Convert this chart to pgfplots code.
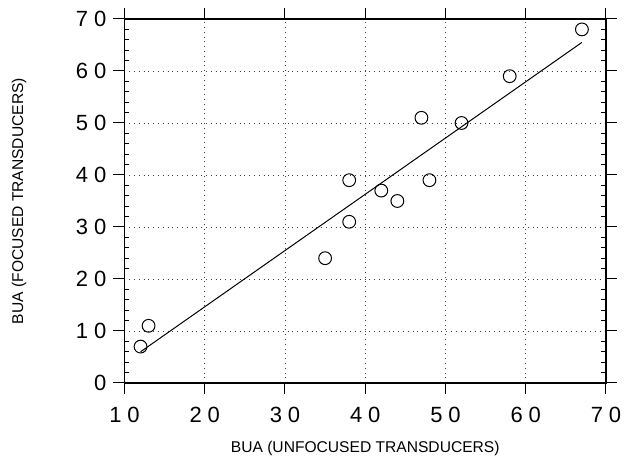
\documentclass[border=0pt]{standalone}
\usepackage{pgfplots}
\pgfplotsset{compat=1.18}
\usepackage{fontspec}
\setmainfont{Liberation Sans}

\newcommand{\tl}[2]{#1\kern3pt#2}

\begin{document}
\begin{tikzpicture}
\begin{axis}[
    name=ax,
    scale only axis,
    width=240.75pt, height=182pt,
    xmin=10, xmax=70, ymin=0, ymax=70,
    xtick={10,20,...,70}, ytick={0,10,...,70},
    xticklabels={\tl10,\tl20,\tl30,\tl40,\tl50,\tl60,\tl70},
    yticklabels={0,\tl10,\tl20,\tl30,\tl40,\tl50,\tl60,\tl70},
    minor y tick num=4,
    tick align=outside,
    major tick length=5.5pt,
    minor tick length=-2.5pt,
    tick style={black, line width=0.5pt},
    axis line style={line width=0.6pt},
    grid=major,
    grid style={dotted, black!75, line width=0.45pt},
    ticklabel style={font=\fontsize{11}{13}\selectfont},
    xticklabel style={yshift=-3pt},
    xlabel={BUA (UNFOCUSED TRANSDUCERS)},
    ylabel={BUA (FOCUSED TRANSDUCERS)},
    label style={font=\fontsize{7.8}{9}\selectfont, inner sep=0pt},
    xlabel style={at={(axis description cs:0.5,-0.160)}, anchor=north},
    ylabel style={at={(axis description cs:-0.203,0.5)}, anchor=south},
]
\addplot[black, line width=0.5pt] coordinates {(12,6.0) (67,65.5)};
\addplot[only marks, mark=o, mark size=3.2pt, mark options={black, line width=0.5pt}] coordinates {
    (12,7) (13,11) (35,24) (38,31) (38,39) (42,37)
    (44,35) (47,51) (48,39) (52,50) (58,59) (67,68)
};
\end{axis}
\pgfresetboundingbox
\useasboundingbox ([shift={(-62.25pt,-37.5pt)}]ax.south west) rectangle ([shift={(13pt,9.5pt)}]ax.north east);
\end{tikzpicture}
\end{document}
